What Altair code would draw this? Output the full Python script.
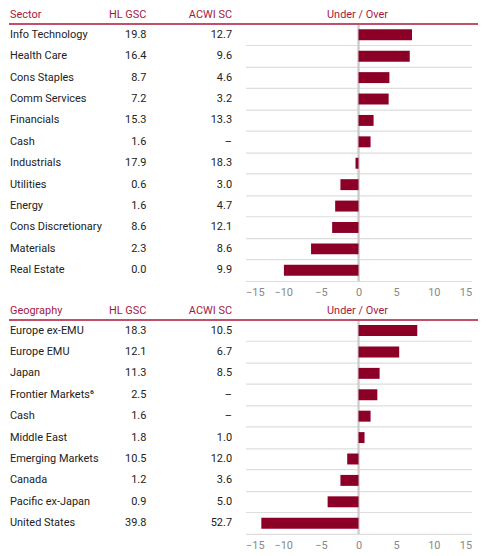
import pandas as pd
import altair as alt

# sector table
sectors = ["Info Technology", "Health Care", "Cons Staples", "Comm Services",
           "Financials", "Cash", "Industrials", "Utilities", "Energy",
           "Cons Discretionary", "Materials", "Real Estate"]
sector_hl = ["19.8", "16.4", "8.7", "7.2", "15.3", "1.6", "17.9", "0.6", "1.6", "8.6", "2.3", "0.0"]
sector_acwi = ["12.7", "9.6", "4.6", "3.2", "13.3", "–", "18.3", "3.0", "4.7", "12.1", "8.6", "9.9"]
sector_diff = [7.1, 6.8, 4.1, 4.0, 2.0, 1.6, -0.4, -2.4, -3.1, -3.5, -6.3, -9.9]

# geography table
regions = ["Europe ex-EMU", "Europe EMU", "Japan", "Frontier Markets⁶", "Cash",
           "Middle East", "Emerging Markets", "Canada", "Pacific ex-Japan", "United States"]
region_hl = ["18.3", "12.1", "11.3", "2.5", "1.6", "1.8", "10.5", "1.2", "0.9", "39.8"]
region_acwi = ["10.5", "6.7", "8.5", "–", "–", "1.0", "12.0", "3.6", "5.0", "52.7"]
region_diff = [7.8, 5.4, 2.8, 2.5, 1.6, 0.8, -1.5, -2.4, -4.1, -12.9]

ticks = [-15, -10, -5, 0, 5, 10, 15]

W = 471
ROW = 21.5
RED = "#a3193f"
BAR = "#8c0028"
FONT = "Roboto"


def section(head, names, hl, acwi, diff):
    df = pd.DataFrame({"name": names, "hl": hl, "acwi": acwi, "diff": diff})
    h = ROW * len(names)
    y = alt.Y("name:N", sort=names, title=None,
              scale=alt.Scale(paddingInner=0, paddingOuter=0),
              axis=alt.Axis(grid=True, gridColor="#dddddd", gridWidth=1.2,
                            bandPosition=1, labels=False, ticks=False,
                            domain=False))
    base = alt.Chart(df).encode(y=y)

    txt = dict(fontSize=11, font=FONT, color="#222222", baseline="middle")
    col_name = base.mark_text(align="left", **txt).encode(x=alt.value(1), text="name:N")
    col_hl = base.mark_text(align="right", **txt).encode(x=alt.value(138), text="hl:N")
    col_acwi = base.mark_text(align="right", **txt).encode(x=alt.value(224), text="acwi:N")

    bars = base.mark_bar(size=11, color=BAR).encode(
        x=alt.X("diff:Q", title=None,
                scale=alt.Scale(domain=[-15, 15], range=[237.5, 464.5], nice=False),
                axis=alt.Axis(values=ticks, grid=False, ticks=False, domain=False,
                              labelColor="#888888", labelFont=FONT, labelFontSize=11,
                              labelPadding=6))
    )
    zero = alt.Chart(df).mark_rule(color="#cccccc", strokeWidth=1.2).encode(
        x=alt.datum(0))

    hdf = pd.DataFrame({"t": [head, "HL GSC", "ACWI SC", "Under / Over"],
                        "pos": [1, 138, 224, 350],
                        "al": ["left", "right", "right", "center"]})
    hdr = []
    for i in range(4):
        hdr.append(alt.Chart(hdf.iloc[[i]]).mark_text(
            align=hdf["al"][i], baseline="middle", fontSize=11, font=FONT, color=RED
        ).encode(x=alt.value(int(hdf["pos"][i])), y=alt.value(-9), text="t:N"))
    line = alt.Chart(df).mark_rule(color="#c0506b", strokeWidth=1.2).encode(
        x=alt.value(0), x2=alt.value(W), y=alt.value(0))

    return alt.layer(zero, bars, col_name, col_hl, col_acwi, line, *hdr).properties(
        width=W, height=h)


top = section("Sector", sectors, sector_hl, sector_acwi, sector_diff)
bottom = section("Geography", regions, region_hl, region_acwi, region_diff)

chart = alt.vconcat(top, bottom, spacing=7).properties(padding=0).configure_view(
    stroke=None)

chart.save("out.html", embed_options={"renderer": "svg", "actions": False})
